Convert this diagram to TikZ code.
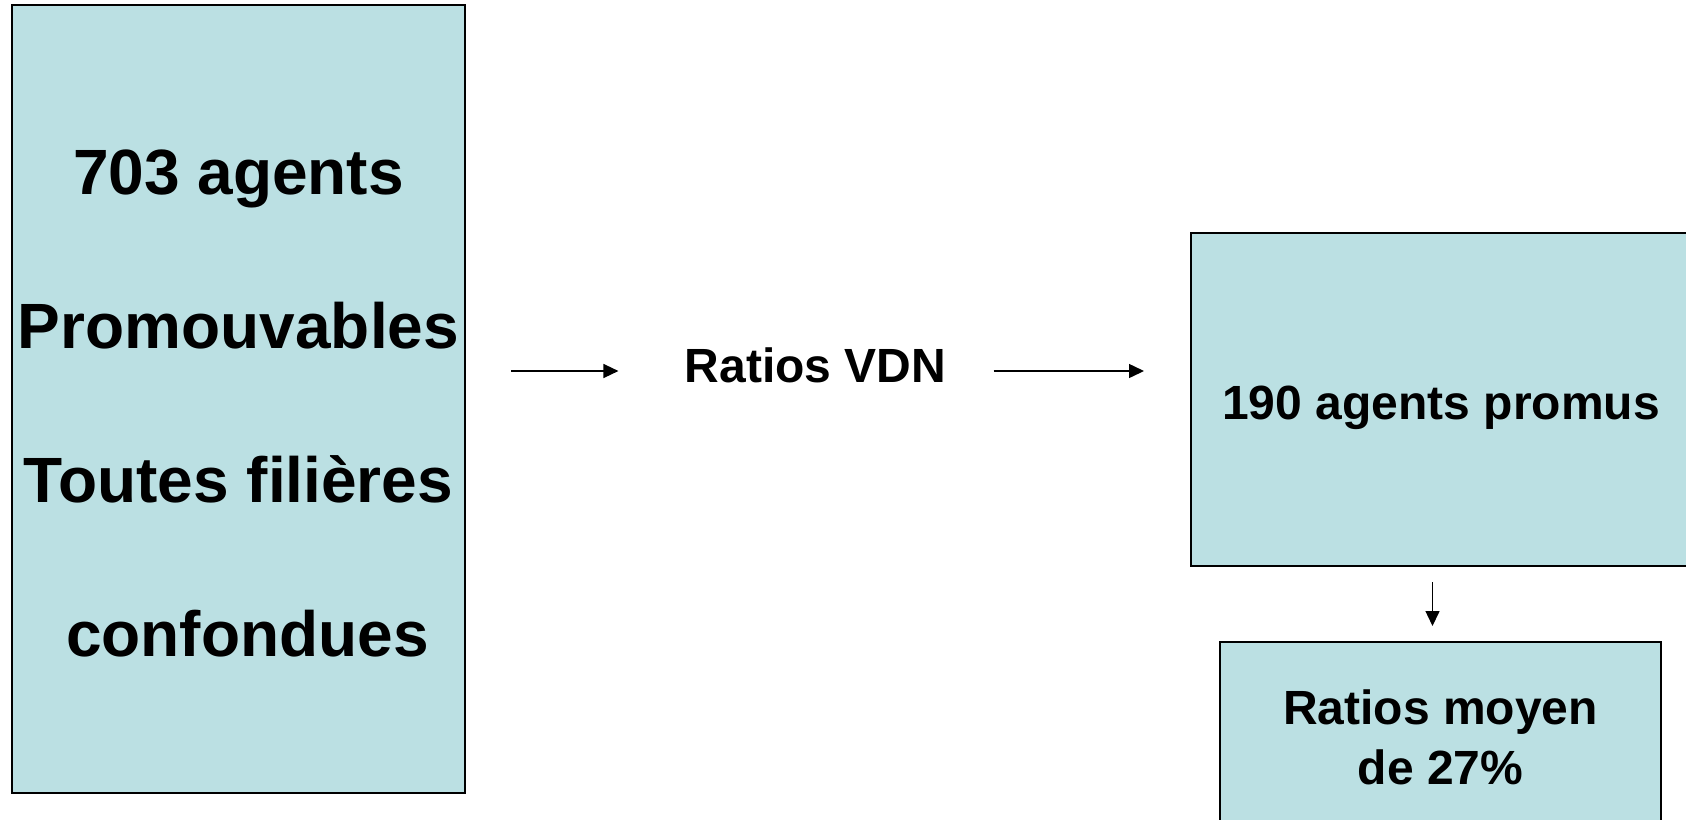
\documentclass[tikz,border=0pt]{standalone}
\usepackage{fontspec}
\setmainfont{Liberation Sans}
\usetikzlibrary{arrows.meta,calc}
\definecolor{boxfill}{HTML}{BBE0E3}
\tikzset{
  bluebox/.style={draw=black, line width=1pt, fill=boxfill, inner sep=0pt, align=center},
  bigtext/.style={font=\fontsize{32}{77}\bfseries\selectfont},
  midtext/.style={font=\fontsize{24}{30}\bfseries\selectfont},
  arr/.style={line width=0.75pt, -{Triangle[length=7.5pt,width=7pt]}}
}
\begin{document}
\begin{tikzpicture}[x=0.5pt,y=-0.5pt]
\useasboundingbox (0,0) rectangle (1686,819);
\node[bluebox, bigtext, minimum width=453*0.5pt, minimum height=788*0.5pt] (left) at (238.5,399)
  {\rule{0pt}{27pt}703 agents\\Promouvables\\Toutes filières\\\hspace*{0.278em}confondues};
\node[midtext, inner sep=0pt, anchor=base] (vdn) at (815.5,382) {Ratios VDN};
\node[bluebox, midtext, minimum width=500*0.5pt, minimum height=333*0.5pt] (promus) at (1441,399.5) {\rule{0pt}{24.7pt}190 agents promus};
\node[bluebox, midtext, minimum width=441*0.5pt, minimum height=190*0.5pt] (moyen) at (1440.5,737) {Ratios moyen\\de 27\%};
\draw[arr] ($(left.east)+(45,-28)$) -- ($(left.east -| vdn.west)+(-66,-28)$);
\draw[arr] ($(promus.west -| vdn.east)+(47,-28.5)$) -- ($(promus.west)+(-46,-28.5)$);
\draw[arr] ($(promus.south)+(-8.5,15)$) -- ($(moyen.north)+(-8,-15)$);
\end{tikzpicture}
\end{document}
